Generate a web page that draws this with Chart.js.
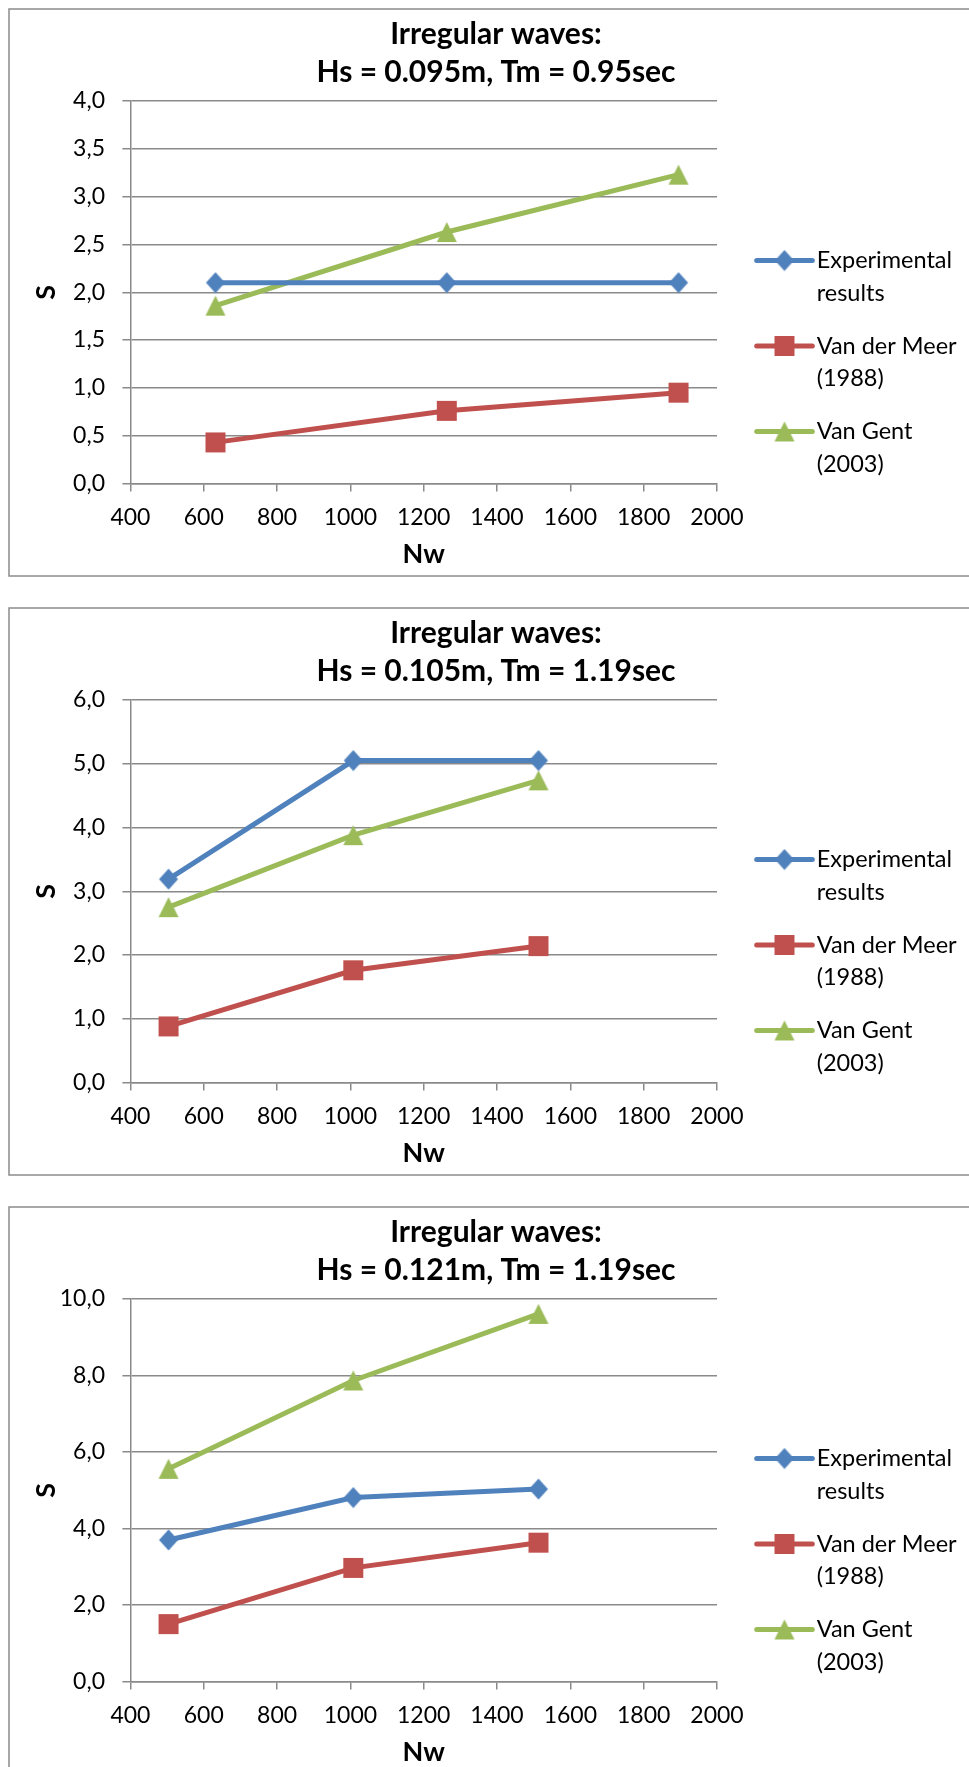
<!DOCTYPE html>
<html>
<head>
<meta charset="utf-8">
<title>Irregular waves – damage S versus Nw</title>
<script src="https://cdn.jsdelivr.net/npm/chart.js@4.4.1/dist/chart.umd.min.js"></script>
<style>
  html, body { margin: 0; padding: 0; background: #fff; overflow: hidden; width: 969px; height: 1767px; }
  canvas { position: absolute; left: 8px; }
</style>
</head>
<body>
<canvas id="waveA" width="976" height="569" style="top:8px"></canvas>
<canvas id="waveB" width="976" height="569" style="top:607px"></canvas>
<canvas id="waveC" width="976" height="569" style="top:1206px"></canvas>
<script>
// Number of waves Nw at the three test stages (600 s, 1200 s, 1800 s)
const nwTm095 = [632, 1263, 1895];
const nwTm119 = [504, 1008, 1513];

// Damage S — Hs = 0.095 m, Tm = 0.95 s
const expA  = [2.10, 2.10, 2.10];
const meerA = [0.43, 0.76, 0.95];
const gentA = [1.86, 2.63, 3.23];

// Damage S — Hs = 0.105 m, Tm = 1.19 s
const expB  = [3.19, 5.05, 5.05];
const meerB = [0.88, 1.76, 2.14];
const gentB = [2.75, 3.88, 4.74];

// Damage S — Hs = 0.121 m, Tm = 1.19 s
const expC  = [3.70, 4.81, 5.03];
const meerC = [1.50, 2.97, 3.63];
const gentC = [5.56, 7.87, 9.61];

// Series names (two lines each in the key)
const seriesNames = [['Experimental', 'results'], ['Van der Meer', '(1988)'], ['Van Gent', '(2003)']];

// Chart titles
const titleA = ['Irregular waves:', 'Hs = 0.095m, Tm = 0.95sec'];
const titleB = ['Irregular waves:', 'Hs = 0.105m, Tm = 1.19sec'];
const titleC = ['Irregular waves:', 'Hs = 0.121m, Tm = 1.19sec'];

// Axis titles and tick labels
const xAxisTitle = 'Nw';
const yAxisTitle = 'S';
const xTickLabels = ['400', '600', '800', '1000', '1200', '1400', '1600', '1800', '2000'];
const yTicksA = ['0,0', '0,5', '1,0', '1,5', '2,0', '2,5', '3,0', '3,5', '4,0'];
const yTicksB = ['0,0', '1,0', '2,0', '3,0', '4,0', '5,0', '6,0'];
const yTicksC = ['0,0', '2,0', '4,0', '6,0', '8,0', '10,0'];

const FONT = 'Lato, "Open Sans", sans-serif';
const GRID = '#8a8a8a';
const COLORS = ['#4f81bd', '#c0504d', '#9bbb59'];

Chart.defaults.font.family = FONT;
Chart.defaults.color = '#000';

// Excel-style marker glyphs
function markerCanvas(kind, color) {
  const c = document.createElement('canvas');
  c.width = 22; c.height = 22;
  const g = c.getContext('2d');
  g.fillStyle = color;
  g.beginPath();
  if (kind === 'diamond') {
    g.moveTo(11, 0.5); g.lineTo(20.5, 11); g.lineTo(11, 21.5); g.lineTo(1.5, 11);
  } else if (kind === 'square') {
    g.rect(1, 1, 20, 20);
  } else {
    g.moveTo(11, 1); g.lineTo(21, 21); g.lineTo(1, 21);
  }
  g.closePath();
  g.fill();
  return c;
}
const MARKERS = [
  markerCanvas('diamond', COLORS[0]),
  markerCanvas('square', COLORS[1]),
  markerCanvas('triangle', COLORS[2])
];

// White background and the grey frame around each chart
const framePlugin = {
  id: 'frame',
  beforeDraw(chart) {
    const ctx = chart.ctx;
    ctx.save();
    ctx.fillStyle = '#fff';
    ctx.fillRect(0, 0, chart.width, chart.height);
    ctx.strokeStyle = '#8c8c8c';
    ctx.lineWidth = 1.5;
    ctx.strokeRect(1, 1, chart.width - 2, chart.height - 2);
    ctx.restore();
  }
};

// Key on the right: line with marker, two-line label
const sideKeyPlugin = {
  id: 'sideKey',
  afterDraw(chart, args, opts) {
    const ctx = chart.ctx;
    const x0 = 748.7, x1 = 804.3, tx = 808.7;
    ctx.save();
    ctx.font = '23.5px ' + FONT;
    ctx.textBaseline = 'middle';
    ctx.textAlign = 'left';
    chart.data.datasets.forEach((ds, i) => {
      const y = opts.top + i * opts.gap;
      ctx.strokeStyle = ds.borderColor;
      ctx.lineWidth = 5;
      ctx.lineCap = 'round';
      ctx.beginPath();
      ctx.moveTo(x0, y); ctx.lineTo(x1, y);
      ctx.stroke();
      const m = ds.pointStyle;
      ctx.drawImage(m, (x0 + x1) / 2 - m.width / 2, y - m.height / 2);
      ctx.fillStyle = '#000';
      seriesNames[i].forEach((line, k) => ctx.fillText(line, tx, y + k * opts.lineGap));
    });
    ctx.restore();
  }
};

function points(xs, ys) {
  return xs.map((x, i) => ({ x: x, y: ys[i] }));
}

function makeChart(id, title, nw, series, yLabels, yMax, yStep, keyTop) {
  const datasets = series.map((vals, i) => ({
    label: seriesNames[i].join(' '),
    data: points(nw, vals),
    borderColor: COLORS[i],
    backgroundColor: COLORS[i],
    borderWidth: 5,
    pointStyle: MARKERS[i],
    pointRadius: 10,
    pointHoverRadius: 10,
    tension: 0,
    clip: false,
    yAxisID: 'y'
  }));

  return new Chart(document.getElementById(id), {
    type: 'line',
    data: { datasets: datasets },
    plugins: [framePlugin, sideKeyPlugin],
    options: {
      responsive: false,
      animation: false,
      events: [],
      layout: { padding: 0 },
      plugins: {
        legend: { display: false },
        tooltip: { enabled: false },
        title: {
          display: true,
          text: title,
          color: '#000',
          font: { family: FONT, size: 30, weight: 'bold', lineHeight: '38px' },
          padding: { top: 7, bottom: 10 }
        },
        sideKey: { top: keyTop, gap: 85.5, lineGap: 32.5 }
      },
      scales: {
        x: {
          type: 'linear',
          min: 400,
          max: 2000,
          afterFit(s) { s.height = 93.5; },
          ticks: {
            stepSize: 200,
            autoSkip: false,
            maxRotation: 0,
            padding: 11.8,
            font: { size: 23 },
            color: '#000',
            callback: (v, i) => xTickLabels[i]
          },
          grid: { drawOnChartArea: false, drawTicks: true, tickLength: 8, color: GRID, lineWidth: 1.5 },
          border: { display: true, color: GRID, width: 1.5 },
          title: {
            display: true,
            text: xAxisTitle,
            color: '#000',
            font: { size: 27, weight: 'bold', lineHeight: 1.2 },
            padding: { top: 0, bottom: 7 }
          }
        },
        y: {
          type: 'linear',
          position: 'left',
          min: 0,
          max: yMax,
          afterFit(s) { s.width = 122.4; },
          ticks: {
            stepSize: yStep,
            autoSkip: false,
            padding: 17.4,
            font: { size: 23 },
            color: '#000',
            callback: (v, i) => yLabels[i]
          },
          grid: { drawOnChartArea: true, drawTicks: true, tickLength: 8, color: GRID, lineWidth: 1.5 },
          border: { display: true, color: GRID, width: 1.5 },
          title: {
            display: true,
            text: yAxisTitle,
            color: '#000',
            font: { size: 27, weight: 'bold', lineHeight: 1.2 },
            padding: { top: 22, bottom: 0 }
          }
        },
        // empty band on the right that holds the key
        keyBand: {
          type: 'linear',
          position: 'right',
          display: true,
          afterFit(s) { s.width = 267; },
          grid: { display: false },
          border: { display: false },
          ticks: { display: false },
          title: { display: false }
        }
      }
    }
  });
}

makeChart('waveA', titleA, nwTm095, [expA, meerA, gentA], yTicksA, 4, 0.5, 252.5);
makeChart('waveB', titleB, nwTm119, [expB, meerB, gentB], yTicksB, 6, 1, 252.5);
makeChart('waveC', titleC, nwTm119, [expC, meerC, gentC], yTicksC, 10, 2, 252.5);
</script>
</body>
</html>
